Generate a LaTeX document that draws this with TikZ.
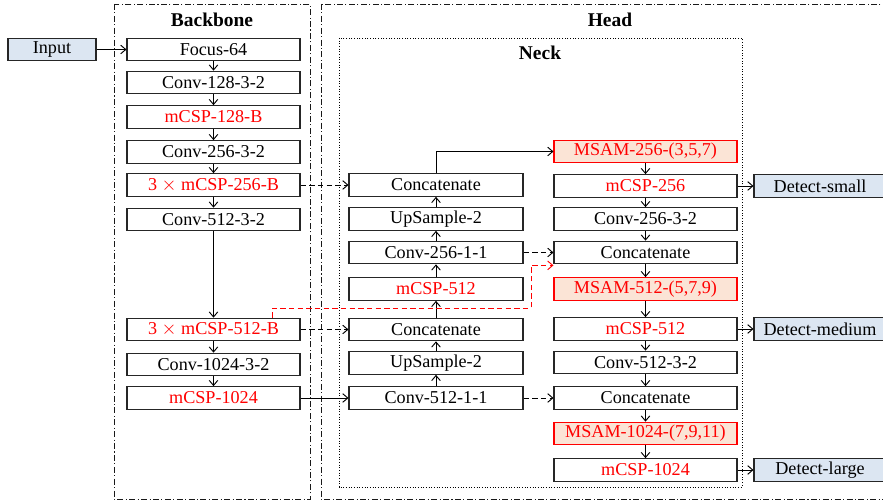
\documentclass[tikz,border=0pt]{standalone}
\usepackage{fontspec}
\setmainfont{Liberation Serif}
\usetikzlibrary{arrows.meta}
\definecolor{inblue}{RGB}{220,230,242}
\definecolor{msamfill}{RGB}{251,228,214}
\definecolor{hot}{RGB}{255,0,0}

\begin{document}
\begin{tikzpicture}[x=0.75pt,y=-0.75pt,
  every node/.style={font=\fontsize{13.6}{15}\selectfont},
  blk/.style={draw=black!85, line width=0.8pt, minimum height=17pt, inner sep=0pt, fill=white},
  bb/.style={blk, minimum width=129.75pt},
  nl/.style={blk, minimum width=130.5pt},
  nr/.style={blk, minimum width=137.25pt},
  rt/.style={text=hot},
  msam/.style={nr, draw=hot, fill=msamfill, text=hot},
  io/.style={blk, fill=inblue},
  arr/.style={-{Straight Barb[length=3.8pt,width=6.5pt]}, line width=0.7pt},
  darr/.style={arr, dash pattern=on 4pt off 2.5pt},
  rarr/.style={darr, draw=hot},
  ttl/.style={font=\fontsize{14.6}{16}\selectfont\bfseries},
  panel/.style={line width=0.55pt, draw=black!90, dash pattern=on 4.5pt off 1.8pt on 0.8pt off 1.8pt},
]
\useasboundingbox (0,0) rectangle (883,502);
\clip (0,0) rectangle (883,502);

% outer groups
\draw[panel] (114,4) rectangle (310,499);
\draw[panel] (321,4) rectangle (905,499);
\draw[line width=0.6pt, dash pattern=on 0.8pt off 1.2pt] (339,38) rectangle (742,487);
\node[ttl] (tbb) at (212,20) {Backbone};
\node[ttl] (thd) at (610,20) {Head};
\node[ttl] (tnk) at (540,53) {Neck};

% input
\node[io, minimum width=66pt] (in) at (52,49.5) {Input};

% backbone
\node[bb] (focus) at (213.5,49.5) {Focus-64};
\node[bb] (c128) at (213.5,82.5) {Conv-128-3-2};
\node[bb, rt] (m128) at (213.5,117) {mCSP-128-B};
\node[bb] (c256) at (213.5,152) {Conv-256-3-2};
\node[bb, rt] (m256) at (213.5,185) {3 $\times$ mCSP-256-B};
\node[bb] (c512) at (213.5,219.5) {Conv-512-3-2};
\node[bb, rt] (m512) at (213.5,329.5) {3 $\times$ mCSP-512-B};
\node[bb] (c1024) at (213.5,364.5) {Conv-1024-3-2};
\node[bb, rt] (m1024) at (213.5,398) {mCSP-1024};

% neck, upward path
\node[nl] (catA) at (436,185) {Concatenate};
\node[nl] (upA) at (436,219) {UpSample-2};
\node[nl] (cv256) at (436,252.5) {Conv-256-1-1};
\node[nl, rt] (nm512) at (436,289) {mCSP-512};
\node[nl] (catB) at (436,329.5) {Concatenate};
\node[nl] (upB) at (436,363) {UpSample-2};
\node[nl] (cv512) at (436,398) {Conv-512-1-1};

% neck, downward path
\node[msam] (s256) at (645.5,151.5) {MSAM-256-(3,5,7)};
\node[nr, rt] (h256) at (645.5,186) {mCSP-256};
\node[nr] (d256) at (645.5,219) {Conv-256-3-2};
\node[nr] (catC) at (645.5,252.5) {Concatenate};
\node[msam] (s512) at (645.5,289) {MSAM-512-(5,7,9)};
\node[nr, rt] (h512) at (645.5,329) {mCSP-512};
\node[nr] (d512) at (645.5,362.5) {Conv-512-3-2};
\node[nr] (catD) at (645.5,398) {Concatenate};
\node[msam] (s1024) at (645.5,433.5) {MSAM-1024-(7,9,11)};
\node[nr, rt] (h1024) at (645.5,470) {mCSP-1024};

% detection outputs
\node[io, minimum width=99pt] (ds) at (820,186) {Detect-small};
\node[io, minimum width=99pt] (dm) at (820,329) {Detect-medium};
\node[io, minimum width=99pt] (dl) at (820,470) {Detect-large};

% backbone flow
\draw[arr] (in) -- (focus);
\foreach \a/\b in {focus/c128, c128/m128, m128/c256, c256/m256, m256/c512,
                   c512/m512, m512/c1024, c1024/m1024}
  \draw[arr] (\a) -- (\b);

% neck upward flow
\foreach \a/\b in {cv512/upB, upB/catB, catB/nm512, nm512/cv256, cv256/upA, upA/catA}
  \draw[arr] (\a) -- (\b);

% neck downward flow
\foreach \a/\b in {s256/h256, h256/d256, d256/catC, catC/s512, s512/h512,
                   h512/d512, d512/catD, catD/s1024, s1024/h1024}
  \draw[arr] (\a) -- (\b);

% lateral links
\draw[darr] (m256) -- (catA);
\draw[darr] (m512) -- (catB);
\draw[arr] (m1024) -- (cv512);
\draw[darr] (cv256) -- (catC);
\draw[darr] (cv512) -- (catD);
\draw[arr] (catA.north) |- (s256.west);
\coordinate (rbend) at (531,308);
\draw[rarr] ([xshift=44.25pt]m512.north) |- (rbend) |- ([yshift=-0.75pt]catC.south west);

% heads
\draw[arr] (h256) -- (ds);
\draw[arr] (h512) -- (dm);
\draw[arr] (h1024) -- (dl);
\end{tikzpicture}
\end{document}
